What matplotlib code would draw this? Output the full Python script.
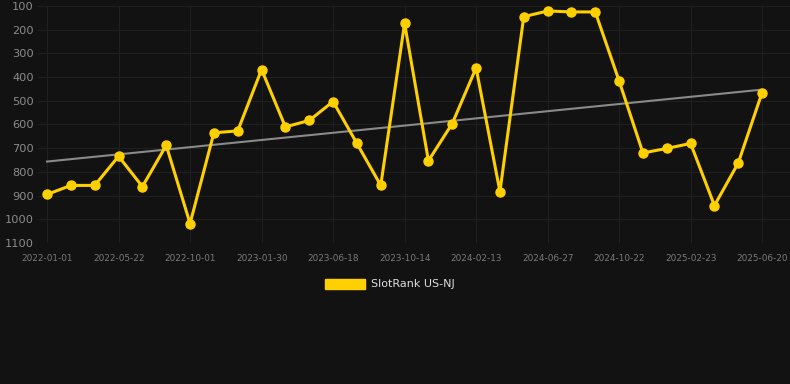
import numpy as np
import matplotlib
matplotlib.use('Agg')
import matplotlib.pyplot as plt
from matplotlib.patches import Patch

# dates of each point (only every 3rd one is shown as a tick label)
dates = ['2022-01-01', '2022-02-17', '2022-04-05', '2022-05-22', '2022-07-05', '2022-08-18',
         '2022-10-01', '2022-11-10', '2022-12-20', '2023-01-30', '2023-03-18', '2023-05-03',
         '2023-06-18', '2023-07-27', '2023-09-05', '2023-10-14', '2023-11-23', '2024-01-03',
         '2024-02-13', '2024-03-28', '2024-05-13', '2024-06-27', '2024-08-05', '2024-09-13',
         '2024-10-22', '2024-12-02', '2025-01-12', '2025-02-23', '2025-04-01', '2025-05-11',
         '2025-06-20']
rank = [895, 857, 857, 734, 862, 688, 1018, 635, 627, 368, 610, 583, 503, 680, 857,
        173, 753, 596, 361, 883, 145, 121, 125, 125, 416, 720, 701, 680, 942, 762, 465]
series_name = 'SlotRank US-NJ'
y_ticks = [100, 200, 300, 400, 500, 600, 700, 800, 900, 1000, 1100]

bg = '#121212'
gold = '#FFD000'

fig = plt.figure(figsize=(7.9, 3.84), dpi=100, facecolor=bg)
ax = fig.add_axes([38 / 790, 1 - 243 / 384, 1 - 38 / 790, (243 - 6) / 384])
ax.set_facecolor(bg)

x = np.arange(len(rank))
# linear trend
k, b = np.polyfit(x, rank, 1)
ax.plot(x, k * x + b, color='#8a8a8a', lw=1.5, zorder=2)
ax.plot(x, rank, color=gold, lw=2.2, marker='o', ms=6.5, zorder=3)

ax.set_ylim(1100, 100)
ax.set_yticks(y_ticks)
ax.set_xlim(-0.38, len(rank) - 1 + 1.17)
ax.set_xticks(x[::3])
ax.set_xticklabels(dates[::3])
ax.tick_params(axis='y', length=0, pad=3, labelsize=8.2, labelcolor='#8c8c8c')
ax.tick_params(axis='x', length=0, pad=8, labelsize=6.4, labelcolor='#7a7a7a')
ax.grid(True, color='#1f1f1f', lw=0.8)
ax.set_axisbelow(True)
for s in ax.spines.values():
    s.set_visible(False)

fig.legend(handles=[Patch(facecolor=gold, edgecolor=gold)], labels=[series_name],
           loc='center', bbox_to_anchor=(390 / 790, 1 - 284 / 384), frameon=False,
           fontsize=8, labelcolor='#dddddd', handlelength=3.6, handleheight=1.0,
           handletextpad=0.6)

fig.savefig('out.png', dpi=100, facecolor=bg)
